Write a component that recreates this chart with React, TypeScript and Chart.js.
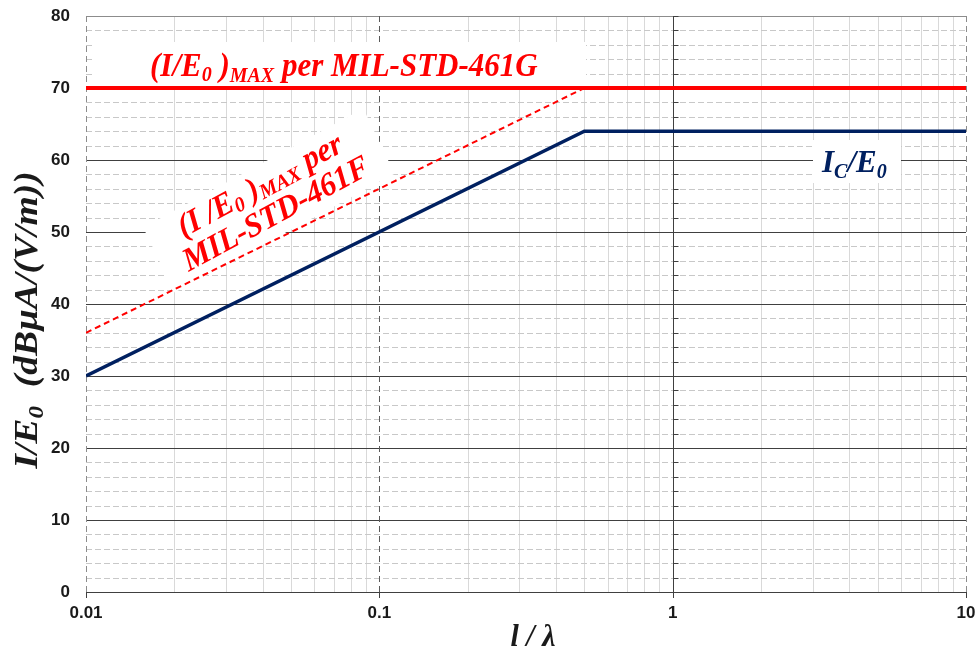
import React, { useEffect, useRef } from "react";
import { Chart, registerables } from "chart.js";

Chart.register(...registerables);

// ---- data ----
const icX = [0.01, 0.5, 10];
const icValues = [30, 64, 64];
const limitFX = [0.01, 0.5];
const limitFValues = [36, 70];
const limitGX = [0.01, 10];
const limitGValues = [70, 70];
const xTickValues = [0.01, 0.1, 1, 10];
const xTickLabels = ["0.01", "0.1", "1", "10"];
const yMin = 0;
const yMax = 80;
const yStep = 10;
const yMinorStep = 2;

const SERIF = '"Liberation Serif", "Times New Roman", serif';
const SANS = '"Liberation Sans", Arial, sans-serif';

type Seg = { t: string; s: number; dy?: number };

function setSegFont(ctx: CanvasRenderingContext2D, s: Seg) {
  ctx.font = `italic bold ${s.s}px ${SERIF}`;
}
function richWidth(ctx: CanvasRenderingContext2D, segs: Seg[]) {
  let w = 0;
  for (const s of segs) {
    setSegFont(ctx, s);
    w += ctx.measureText(s.t).width;
  }
  return w;
}
function drawRich(
  ctx: CanvasRenderingContext2D,
  segs: Seg[],
  x: number,
  y: number,
  align: "left" | "center"
) {
  let cx = align === "center" ? x - richWidth(ctx, segs) / 2 : x;
  ctx.textAlign = "left";
  ctx.textBaseline = "alphabetic";
  for (const s of segs) {
    setSegFont(ctx, s);
    ctx.fillText(s.t, cx, y + (s.dy || 0));
    cx += ctx.measureText(s.t).width;
  }
}

function hLine(ctx: CanvasRenderingContext2D, x0: number, x1: number, y: number) {
  const yy = Math.round(y) + 0.5;
  ctx.beginPath();
  ctx.moveTo(x0, yy);
  ctx.lineTo(x1, yy);
  ctx.stroke();
}
function vLine(ctx: CanvasRenderingContext2D, x: number, y0: number, y1: number) {
  const xx = Math.round(x) + 0.5;
  ctx.beginPath();
  ctx.moveTo(xx, y0);
  ctx.lineTo(xx, y1);
  ctx.stroke();
}

const F_ANGLE = (-27 * Math.PI) / 180;
const F_STRETCH = 1.06;

const gridPlugin = {
  id: "customGrid",
  beforeDatasetsDraw(chart: any) {
    const { ctx, chartArea } = chart;
    const { left, right, top, bottom } = chartArea;
    const xs = chart.scales.x;
    const ys = chart.scales.y;
    ctx.save();
    ctx.lineWidth = 1;

    // minor verticals
    ctx.strokeStyle = "#d9d9d9";
    ctx.setLineDash([]);
    for (let d = 0; d < xTickValues.length - 1; d++) {
      for (let k = 2; k <= 9; k++) {
        vLine(ctx, xs.getPixelForValue(xTickValues[d] * k), top, bottom);
      }
    }
    // minor horizontals
    ctx.strokeStyle = "#c8c8c8";
    ctx.setLineDash([6, 3]);
    for (let v = yMin + yMinorStep; v < yMax; v += yMinorStep) {
      if (v % yStep === 0) continue;
      hLine(ctx, left, right, ys.getPixelForValue(v));
    }
    // major horizontals
    ctx.setLineDash([]);
    ctx.strokeStyle = "#404040";
    for (let v = yMin; v < yMax; v += yStep) {
      hLine(ctx, left, right, ys.getPixelForValue(v));
    }
    ctx.strokeStyle = "#8c8c8c";
    hLine(ctx, left, right, ys.getPixelForValue(yMax));

    // major verticals
    const styles = [
      { c: "#8c8c8c", d: [6, 4] },
      { c: "#595959", d: [6, 4] },
      { c: "#404040", d: [] as number[] },
      { c: "#8c8c8c", d: [6, 4] },
    ];
    xTickValues.forEach((v, i) => {
      ctx.strokeStyle = styles[i].c;
      ctx.setLineDash(styles[i].d);
      vLine(ctx, xs.getPixelForValue(v), top, bottom);
    });
    ctx.setLineDash([]);

    // minor tick marks on the crossing axis at 1
    ctx.strokeStyle = "#404040";
    const xc = Math.round(xs.getPixelForValue(1)) + 0.5;
    for (let v = yMin; v <= yMax; v += yMinorStep) {
      const py = Math.round(ys.getPixelForValue(v)) + 0.5;
      ctx.beginPath();
      ctx.moveTo(xc, py);
      ctx.lineTo(xc + 5, py);
      ctx.stroke();
    }
    // bottom tick marks
    xTickValues.forEach((v) => {
      vLine(ctx, xs.getPixelForValue(v), bottom, bottom + 6);
    });

    // white label backgrounds
    ctx.fillStyle = "#ffffff";
    ctx.fillRect(95, 42, 491, 44);
    ctx.fillRect(813, 140, 88, 43);
    ctx.save();
    ctx.translate(266, 198);
    ctx.scale(1, F_STRETCH);
    ctx.rotate(F_ANGLE);
    ctx.fillRect(-122, -31, 247, 69);
    ctx.restore();

    ctx.restore();
  },
  afterDatasetsDraw(chart: any) {
    const { ctx } = chart;
    ctx.save();
    // MIL-STD-461G label
    ctx.fillStyle = "#ff0000";
    ctx.save();
    ctx.translate(150, 76);
    ctx.scale(1, 1.06);
    drawRich(
      ctx,
      [
        { t: "(I/E", s: 31 },
        { t: "0", s: 20, dy: 5 },
        { t: " )", s: 31 },
        { t: "MAX", s: 20, dy: 6 },
        { t: " per MIL-STD-461G", s: 31 },
      ],
      0,
      0,
      "left"
    );
    ctx.restore();
    // MIL-STD-461F label
    ctx.save();
    ctx.translate(266, 198);
    ctx.scale(1, F_STRETCH);
    ctx.rotate(F_ANGLE);
    drawRich(
      ctx,
      [
        { t: "(I /E", s: 31 },
        { t: "0", s: 20, dy: 4 },
        { t: " )", s: 31 },
        { t: "MAX", s: 20, dy: 4 },
        { t: " per", s: 31 },
      ],
      0,
      -4,
      "center"
    );
    drawRich(ctx, [{ t: "MIL-STD-461F", s: 31 }], 2, 27, "center");
    ctx.restore();

    // Ic/E0 label
    ctx.fillStyle = "#002060";
    ctx.save();
    ctx.translate(822, 172);
    ctx.scale(1, 1.05);
    drawRich(
      ctx,
      [
        { t: "I", s: 31 },
        { t: "C", s: 20, dy: 6 },
        { t: "/E", s: 31 },
        { t: "0", s: 20, dy: 6 },
      ],
      0,
      0,
      "left"
    );
    ctx.restore();

    // axis titles
    ctx.fillStyle = "#1a1a1a";
    ctx.save();
    ctx.translate(533, 646);
    ctx.scale(1, 1.05);
    drawRich(ctx, [{ t: "l / λ", s: 30 }], 0, 0, "center");
    ctx.restore();
    ctx.save();
    ctx.translate(37, 320);
    ctx.rotate(-Math.PI / 2);
    ctx.scale(1.14, 1);
    drawRich(
      ctx,
      [
        { t: "I/E", s: 33 },
        { t: "0", s: 22, dy: 6 },
        { t: "  (dBµA/(V/m))", s: 33 },
      ],
      0,
      0,
      "center"
    );
    ctx.restore();
    ctx.restore();
  },
};

function pts(xv: number[], yv: number[]) {
  return xv.map((x, i) => ({ x, y: yv[i] }));
}

export default function App() {
  const ref = useRef<HTMLCanvasElement | null>(null);
  useEffect(() => {
    document.body.style.margin = "0";
    document.body.style.overflow = "hidden";
    if (!ref.current) return;
    const chart = new Chart(ref.current, {
      type: "line",
      data: {
        datasets: [
          {
            data: pts(limitFX, limitFValues),
            borderColor: "#ff0000",
            borderWidth: 2,
            borderDash: [6, 4],
            pointRadius: 0,
            fill: false,
          },
          {
            data: pts(icX, icValues),
            borderColor: "#002060",
            borderWidth: 3.5,
            pointRadius: 0,
            fill: false,
          },
          {
            data: pts(limitGX, limitGValues),
            borderColor: "#ff0000",
            borderWidth: 4,
            pointRadius: 0,
            fill: false,
          },
        ],
      },
      options: {
        animation: false,
        responsive: false,
        layout: { padding: { left: 0, right: 13, top: 16, bottom: 0 } },
        plugins: { legend: { display: false }, tooltip: { enabled: false } },
        scales: {
          x: {
            type: "logarithmic",
            min: xTickValues[0],
            max: xTickValues[xTickValues.length - 1],
            grid: { display: false, drawTicks: false },
            border: { display: false },
            afterBuildTicks: (s: any) => {
              s.ticks = xTickValues.map((v) => ({ value: v }));
            },
            ticks: {
              autoSkip: false,
              maxRotation: 0,
              padding: 11,
              color: "#1a1a1a",
              font: { family: SANS, size: 17, weight: "bold" },
              callback: (v: any) => {
                const i = xTickValues.indexOf(Number(v));
                return i >= 0 ? xTickLabels[i] : "";
              },
            },
            afterFit: (s: any) => {
              s.height = 62;
              s.paddingLeft = 0;
              s.paddingRight = 0;
            },
          },
          y: {
            type: "linear",
            min: yMin,
            max: yMax,
            grid: { display: false, drawTicks: false },
            border: { display: false },
            ticks: {
              stepSize: yStep,
              padding: 16,
              color: "#1a1a1a",
              font: { family: SANS, size: 17, weight: "bold" },
            },
            afterFit: (s: any) => {
              s.width = 86;
              s.paddingTop = 0;
              s.paddingBottom = 0;
            },
          },
        },
      },
      plugins: [gridPlugin],
    } as any);
    return () => chart.destroy();
  }, []);
  return (
    <div style={{ width: 979, height: 654 }}>
      <canvas ref={ref} width={979} height={654} style={{ display: "block" }} />
    </div>
  );
}
